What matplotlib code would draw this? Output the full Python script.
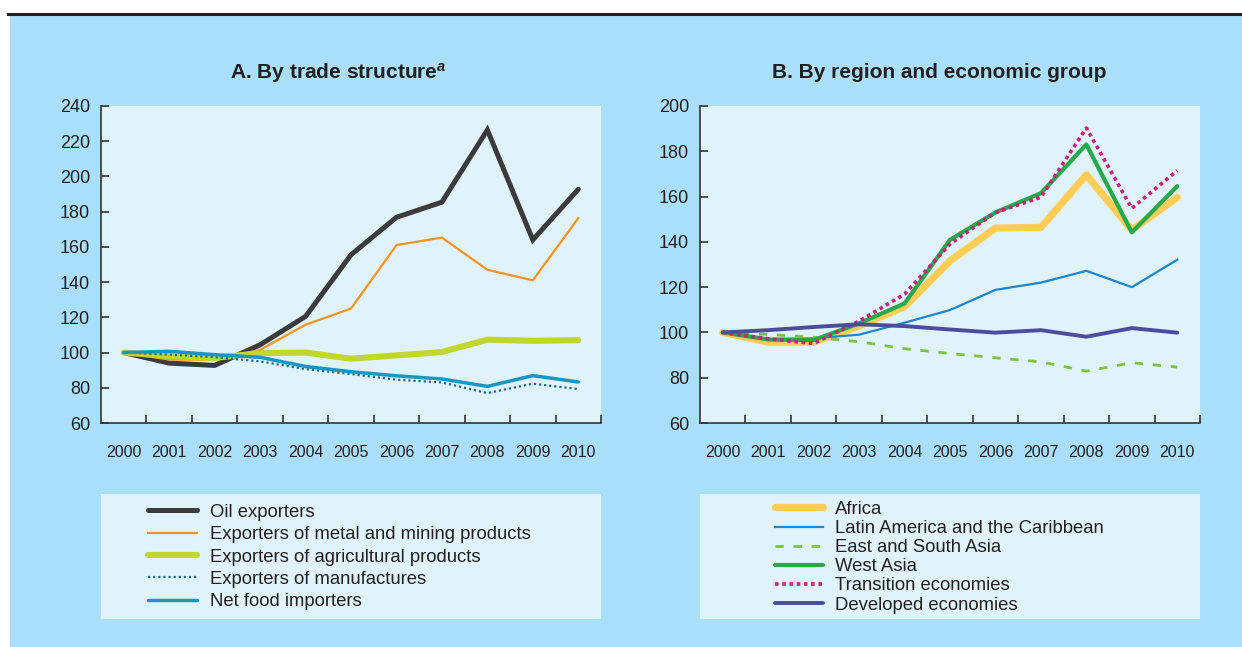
import numpy as np
import matplotlib
matplotlib.use("Agg")
import matplotlib.pyplot as plt
from matplotlib.lines import Line2D
from matplotlib.patches import Rectangle

plt.rcParams['font.family'] = ['Liberation Sans', 'DejaVu Sans']
plt.rcParams['mathtext.fontset'] = 'custom'
plt.rcParams['mathtext.it'] = 'Liberation Sans:italic:bold'

years = list(range(2000, 2011))

# panel A: by trade structure
oil = [100, 94, 92.7, 104.4, 120.5, 155.5, 176.8, 185.4, 226.4, 164, 192.7]
metal = [100, 96, 96, 101.5, 115.8, 125, 161, 165.3, 147, 141, 176.3]
agri = [100, 98, 97, 99.7, 100, 96.5, 98.4, 100.3, 107.3, 106.7, 107]
manuf = [100, 98.8, 97.4, 95, 90.6, 87.8, 84.6, 83, 77, 82.3, 79.3]
food = [100, 100.7, 98.8, 97.3, 92.1, 89.1, 86.8, 85, 80.8, 86.9, 83.3]

# panel B: by region and economic group
africa = [100, 95.7, 95.7, 102.8, 111.4, 131.6, 146.1, 146.4, 169.6, 145.2, 159.7]
latam = [100, 97, 97.4, 99, 104.3, 109.9, 118.8, 122, 127.2, 120, 132.1]
easia = [100, 99.1, 97.9, 95.9, 92.8, 90.7, 88.8, 87, 82.9, 86.6, 84.7]
wasia = [100, 96.9, 96.6, 104, 112.8, 140.9, 153, 161.5, 183, 144.2, 164.6]
transition = [100, 97.2, 95.1, 105, 116.9, 139, 153, 159.7, 190.3, 154.8, 171.5]
developed = [100, 101, 102.4, 103.6, 102.8, 101.3, 99.9, 101, 98.1, 101.9, 99.9]

OUTER = '#aadff9'
INNER = '#e0f3fb'
INK = '#231f20'

fig = plt.figure(figsize=(12.42, 6.47), dpi=100)
fig.patch.set_facecolor('white')
W, H = 1242, 647

fig.patches.append(Rectangle((10 / W, 0), 1 - 10 / W, 1 - 15 / H,
                             transform=fig.transFigure, color=OUTER, zorder=-10))
fig.lines.append(Line2D([8 / W, 1], [1 - 13.5 / H, 1 - 13.5 / H],
                        transform=fig.transFigure, color='#231f20', lw=2.2))


def box(x0, y0, x1, y1):
    return [x0 / W, 1 - y1 / H, (x1 - x0) / W, (y1 - y0) / H]


def setup(ax, ymin, ymax):
    ax.set_facecolor(INNER)
    for s in ['top', 'right']:
        ax.spines[s].set_visible(False)
    for s in ['left', 'bottom']:
        ax.spines[s].set_color('#333333')
        ax.spines[s].set_linewidth(1.2)
    ax.set_xlim(1999.5, 2010.5)
    ax.set_ylim(ymin, ymax)
    ax.set_yticks(np.arange(ymin, ymax + 1, 20))
    ax.set_xticks(years)
    ax.set_xticklabels([str(y) for y in years], fontsize=11.5, color=INK)
    ax.set_xticks(np.arange(2000.5, 2011, 1), minor=True)
    ax.tick_params(axis='x', which='major', length=0, pad=16)
    ax.tick_params(axis='x', which='minor', direction='in', length=6,
                   width=1.2, color='#333333')
    ax.tick_params(axis='y', direction='in', length=6, width=1.2,
                   color='#333333', labelsize=13, labelcolor=INK, pad=8)


def legend_box(rect, handles, spacing, anchor, hlen, hpad):
    lax = fig.add_axes(rect)
    lax.set_facecolor(INNER)
    for s in lax.spines.values():
        s.set_visible(False)
    lax.set_xticks([])
    lax.set_yticks([])
    lax.legend(handles=handles, loc='upper left', bbox_to_anchor=anchor,
               frameon=False, fontsize=13.3, handlelength=hlen,
               handletextpad=hpad, labelspacing=spacing, borderaxespad=0,
               labelcolor=INK)


# ---- panel A
axA = fig.add_axes(box(101, 106, 601, 423))
setup(axA, 60, 240)
hA = []
hA += axA.plot(years, oil, color='#3b3b3d', lw=3.6, label='Oil exporters',
               solid_capstyle='round', solid_joinstyle='miter')
hA += axA.plot(years, metal, color='#f7941d', lw=1.6,
               label='Exporters of metal and mining products')
hA += axA.plot(years, agri, color='#c1d72e', lw=4.4,
               label='Exporters of agricultural products', solid_capstyle='round')
hA += axA.plot(years, manuf, color='#1d6b85', lw=1.6, ls=(0, (1, 1.3)),
               label='Exporters of manufactures')
hA += axA.plot(years, food, color='#1497c4', lw=2.5, label='Net food importers',
               solid_capstyle='round')
fig.text(338 / W, 1 - 73 / H, r'A. By trade structure$^{a}$', ha='center',
         va='center', fontsize=15, fontweight='bold', color=INK)

# ---- panel B
axB = fig.add_axes(box(700, 106, 1200, 423))
setup(axB, 60, 200)
hB = []
hB += axB.plot(years, africa, color='#ffcd55', lw=5.2, label='Africa',
               solid_capstyle='round')
hB += axB.plot(years, latam, color='#1b87c9', lw=1.6,
               label='Latin America and the Caribbean')
hB += axB.plot(years, easia, color='#7dc242', lw=2, ls=(0, (3, 3.5)),
               label='East and South Asia')
hB += axB.plot(years, wasia, color='#27a84a', lw=3, label='West Asia',
               solid_capstyle='round')
hB += axB.plot(years, transition, color='#c9217e', lw=2.6, ls=(0, (1, 1)),
               label='Transition economies')
hB += axB.plot(years, developed, color='#4a4c9e', lw=2.8,
               label='Developed economies', solid_capstyle='round')
fig.text(939 / W, 1 - 73 / H, 'B. By region and economic group', ha='center',
         va='center', fontsize=15, fontweight='bold', color=INK)

legend_box(box(101, 494, 601, 619), hA, 0.29, (0.08, 0.98), 2.65, 0.7)
legend_box(box(700, 494, 1200, 619), hB, 0.115, (0.136, 1.004), 2.6, 0.65)

fig.savefig('out.png', dpi=100)
